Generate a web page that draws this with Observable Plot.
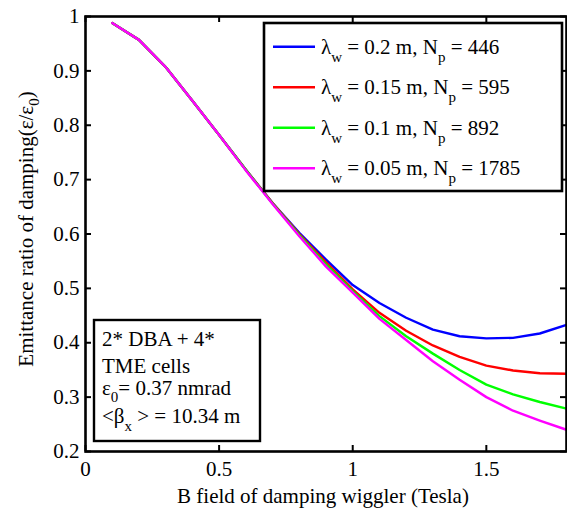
<!DOCTYPE html>
<html><head><meta charset="utf-8">
<script src="https://cdn.jsdelivr.net/npm/d3@7"></script>
<script src="https://cdn.jsdelivr.net/npm/@observablehq/plot@0.6"></script>
<style>body{margin:0;background:#fff}</style>
</head><body><div id="chart"></div>
<script>
const bField = [0.1,0.2,0.3,0.4,0.5,0.6,0.7,0.8,0.9,1.0,1.1,1.2,1.3,1.4,1.5,1.6,1.7,1.8];
const ratio02  = [0.988,0.957,0.907,0.845,0.782,0.718,0.657,0.602,0.553,0.506,0.473,0.446,0.424,0.412,0.408,0.409,0.417,0.433];
const ratio015 = [0.988,0.957,0.907,0.845,0.782,0.718,0.657,0.600,0.548,0.498,0.455,0.422,0.395,0.374,0.358,0.349,0.344,0.343];
const ratio01  = [0.988,0.957,0.907,0.845,0.782,0.718,0.656,0.598,0.544,0.495,0.449,0.412,0.380,0.350,0.323,0.305,0.291,0.279];
const ratio005 = [0.988,0.957,0.907,0.845,0.782,0.717,0.655,0.596,0.540,0.492,0.444,0.405,0.366,0.332,0.300,0.275,0.257,0.240];
const seriesLambda = ["0.2","0.15","0.1","0.05"];
const seriesNp = ["446","595","892","1785"];
const seriesColors = ["#0000ff","#ff0000","#00ff00","#ff00ff"];
const xTicks = [0,0.5,1,1.5];
const yTicks = [0.2,0.3,0.4,0.5,0.6,0.7,0.8,0.9,1];
const xLabel = "B field of damping wiggler (Tesla)";
const boxLines = ["2* DBA + 4*","TME cells"];

const allSeries = [ratio02, ratio015, ratio01, ratio005];
const rows = [];
allSeries.forEach((s, k) => s.forEach((v, i) => rows.push({x: bField[i], y: v, k})));

const W = 567, H = 510, mL = 85, mR = 1, mT = 16, mB = 59;
const font = "Liberation Serif";
const fs = 21;

const plot = Plot.plot({
  width: W, height: H,
  marginLeft: mL, marginRight: mR, marginTop: mT, marginBottom: mB,
  x: {domain: [0, 1.8]},
  y: {domain: [0.2, 1]},
  color: {domain: [0,1,2,3], range: seriesColors},
  marks: [
    Plot.axisX({ticks: xTicks, tickSize: 0, tickPadding: 10, label: null, tickFormat: d => String(d), fontSize: fs, fill: "#000"}),
    Plot.axisY({ticks: yTicks, tickSize: 0, tickPadding: 6, label: null, tickFormat: d => String(d), fontSize: fs, fill: "#000"}),
    Plot.ruleX(xTicks, {x: d => d, insetTop: H - mT - mB - 6, strokeWidth: 2, stroke: "#000"}),
    Plot.ruleX(xTicks, {x: d => d, insetBottom: H - mT - mB - 6, strokeWidth: 2, stroke: "#000"}),
    Plot.ruleY(yTicks, {y: d => d, insetRight: W - mL - mR - 6, strokeWidth: 2, stroke: "#000"}),
    Plot.ruleY(yTicks, {y: d => d, insetLeft: W - mL - mR - 6, strokeWidth: 2, stroke: "#000"}),
    Plot.line(rows, {x: "x", y: "y", z: "k", stroke: "k", strokeWidth: 2.4}),
    Plot.frame({stroke: "#000", strokeWidth: 2.6})
  ]
});
const st = plot.querySelector("style");
if (st) st.remove();
plot.style.display = "block";
plot.style.background = "#fff";
document.getElementById("chart").appendChild(plot);

const svg = d3.select(plot);
const txt = (sel, x, y) => sel.append("text").attr("x", x).attr("y", y)
  .attr("text-anchor", "start").attr("font-size", fs).attr("fill", "#000");

// x label
txt(svg, 323, 503).attr("text-anchor", "middle").text(xLabel);

// y label
const yl = svg.append("text").attr("transform", "translate(33,229) rotate(-90)")
  .attr("text-anchor", "middle").attr("font-size", fs).attr("fill", "#000");
yl.append("tspan").text("Emittance ratio of damping(ε/ε");
yl.append("tspan").attr("font-size", 15).attr("dy", 6).text("0");
yl.append("tspan").attr("dy", -6).text(")");

// legend
const lg = svg.append("g");
lg.append("rect").attr("x", 264).attr("y", 23).attr("width", 298).attr("height", 168)
  .attr("fill", "#fff").attr("stroke", "#000").attr("stroke-width", 2.6);
seriesLambda.forEach((lam, i) => {
  const yy = 46.7 + i * 40.5;
  lg.append("line").attr("x1", 273).attr("x2", 315).attr("y1", yy).attr("y2", yy)
    .attr("stroke", seriesColors[i]).attr("stroke-width", 2.4);
  const t = txt(lg, 321, yy + 7);
  t.append("tspan").text("λ");
  t.append("tspan").attr("font-size", 15).attr("dy", 8).text("w");
  t.append("tspan").attr("dy", -8).text(" = " + lam + " m, N");
  t.append("tspan").attr("font-size", 15).attr("dy", 8).text("p");
  t.append("tspan").attr("dy", -8).text(" = " + seriesNp[i]);
});

// annotation box
const ab = svg.append("g");
ab.append("rect").attr("x", 94).attr("y", 320).attr("width", 166).attr("height", 121)
  .attr("fill", "#fff").attr("stroke", "#000").attr("stroke-width", 2.4);
txt(ab, 102, 346).text(boxLines[0]);
txt(ab, 102, 373).text(boxLines[1]);
const e0 = txt(ab, 102, 395);
e0.append("tspan").text("ε");
e0.append("tspan").attr("font-size", 15).attr("dy", 7).text("0");
e0.append("tspan").attr("dy", -7).text("= 0.37 nmrad");
const bx = txt(ab, 102, 423);
bx.append("tspan").text("<β");
bx.append("tspan").attr("font-size", 15).attr("dy", 8).text("x");
bx.append("tspan").attr("dy", -8).text(" > = 10.34 m");

plot.setAttribute("font-family", font);
plot.querySelectorAll("g, text, tspan").forEach(el => el.setAttribute("font-family", font));
</script></body></html>
